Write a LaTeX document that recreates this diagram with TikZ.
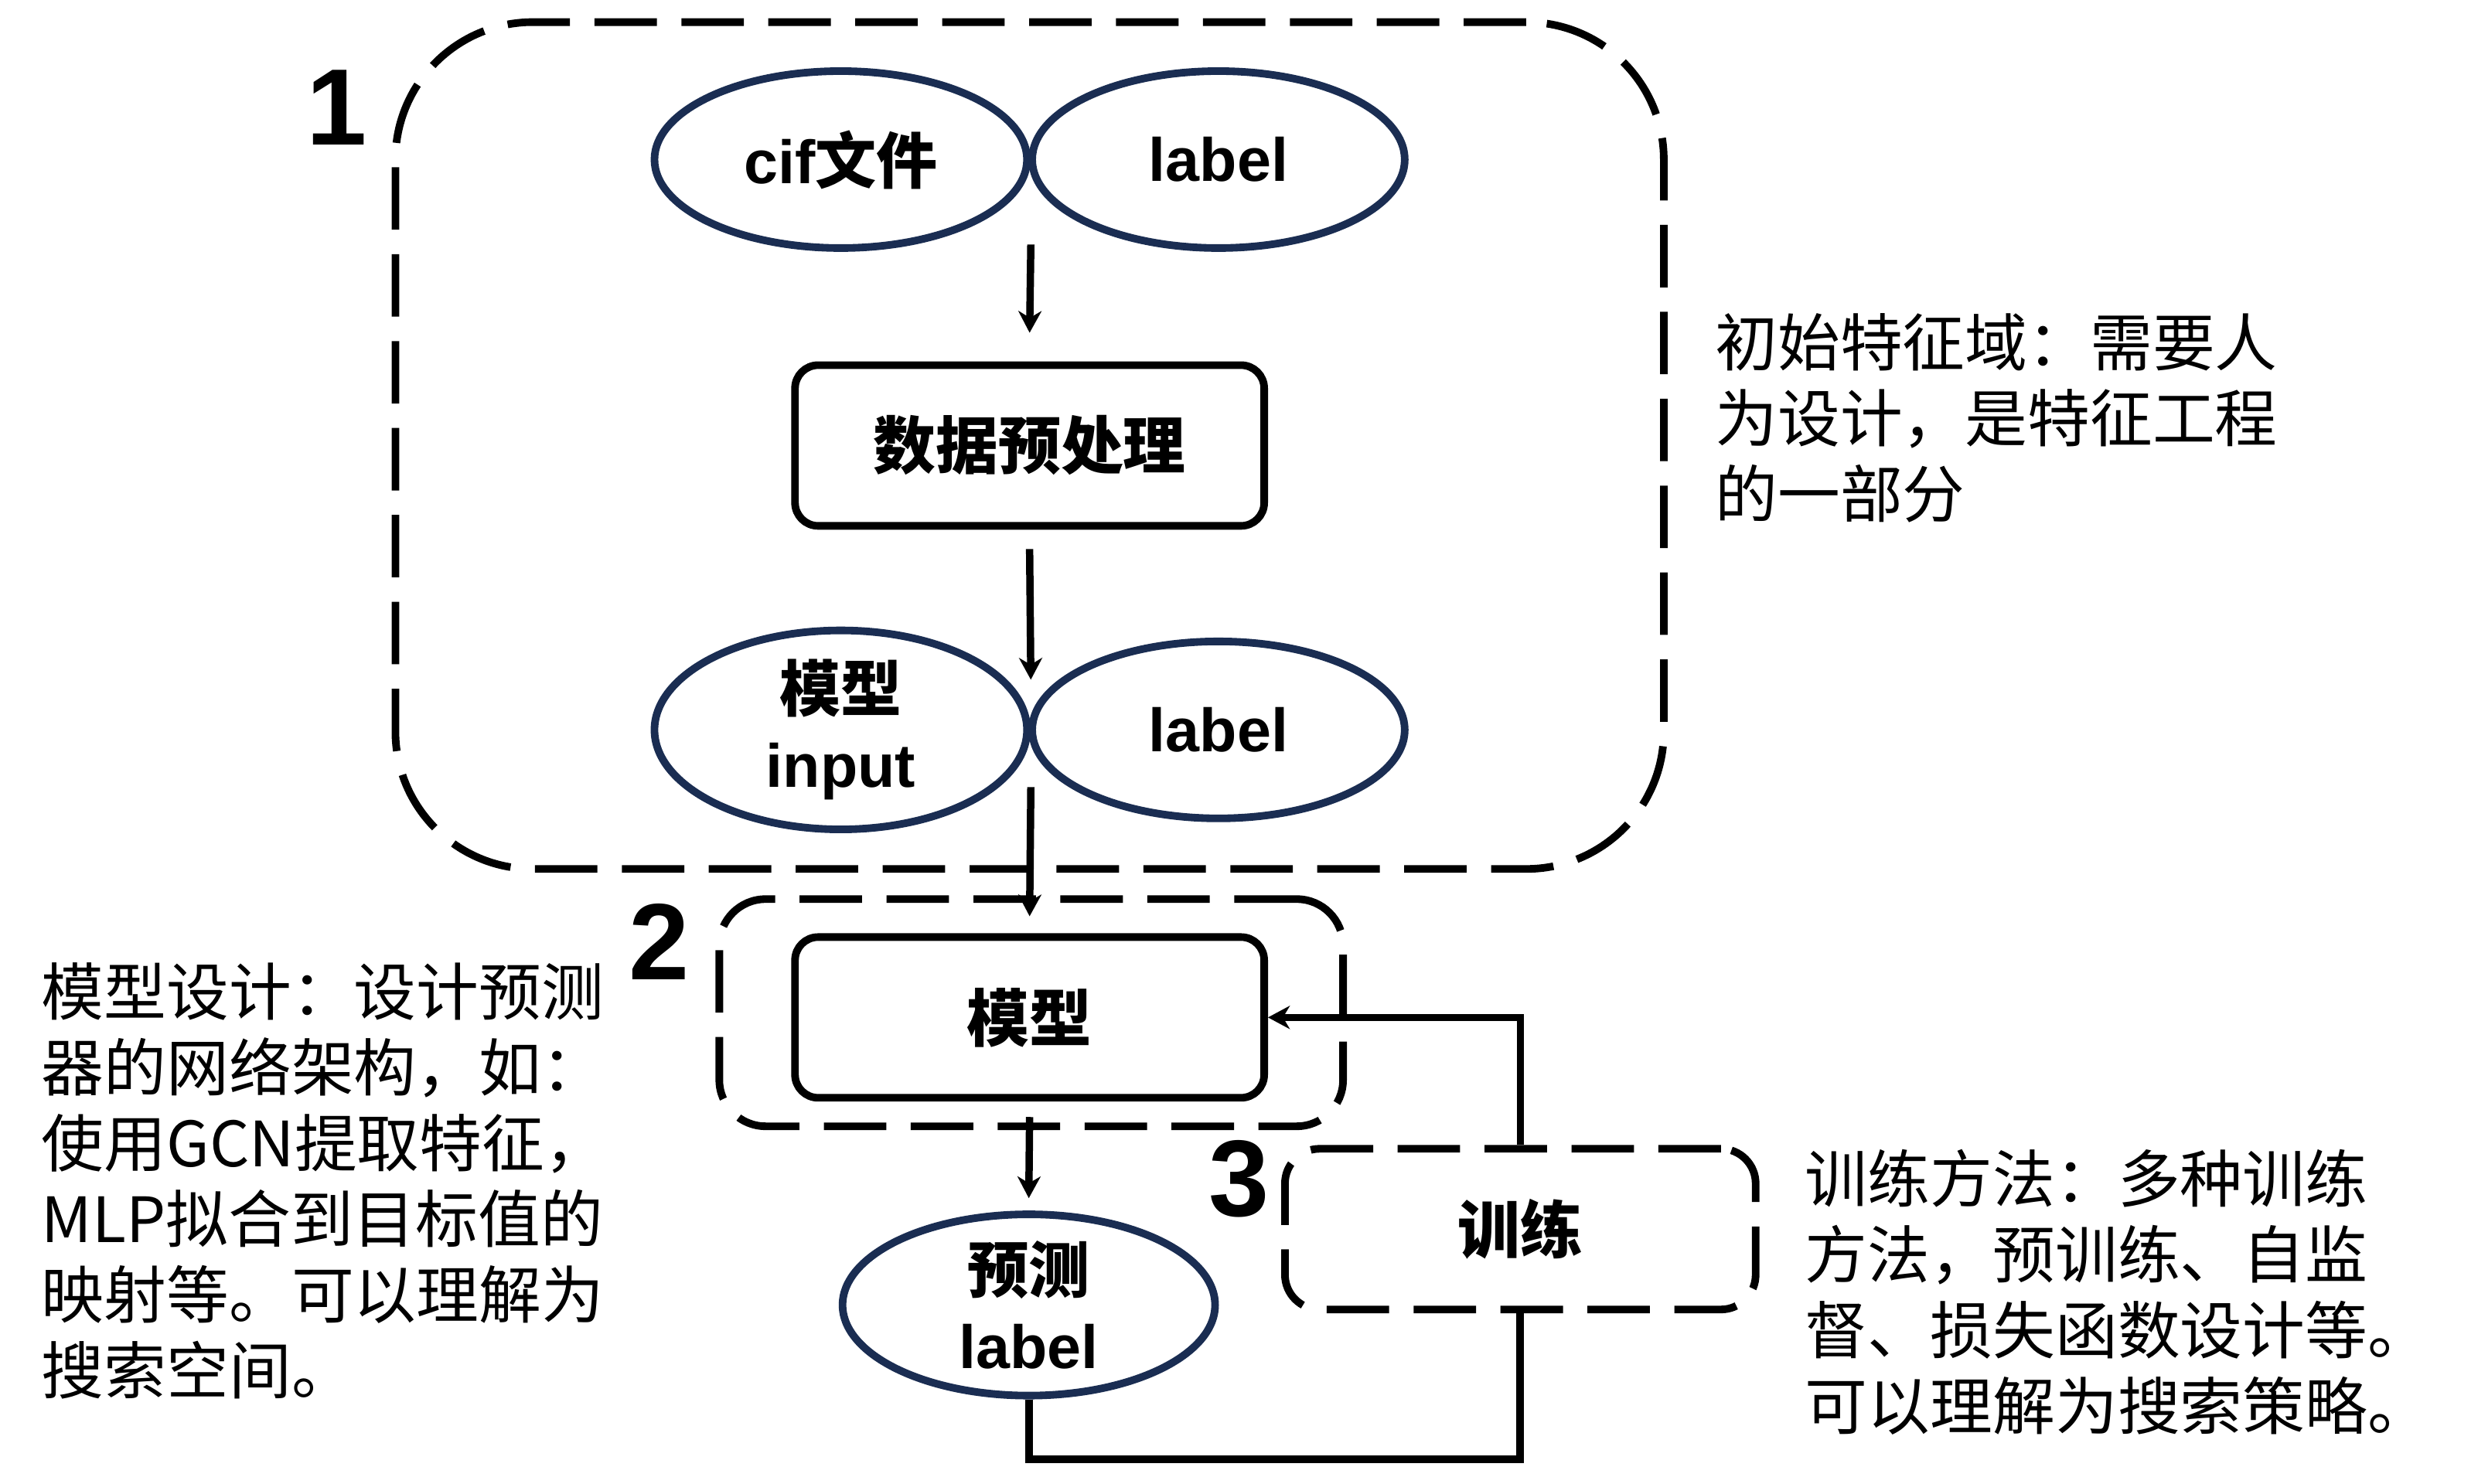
\documentclass[tikz,border=0pt]{standalone}
\usepackage{fontspec}
\setmainfont{Liberation Sans}
\newfontfamily\cjk{Noto Sans CJK SC}
\usetikzlibrary{shapes.geometric,arrows.meta,calc}
\definecolor{navy}{HTML}{1A2D52}
\begin{document}
\begin{tikzpicture}[x=0.02044cm,y=-0.02044cm,
  ell/.style={ellipse, draw=navy, line width=2.8pt, minimum width=4.82cm, minimum height=2.29cm, inner sep=0pt, align=center, font=\fontsize{22.5}{27.9}\selectfont\bfseries},
  procbox/.style={draw, line width=2.8pt, rounded corners=0.3cm, minimum width=6.07cm, minimum height=2.08cm, font=\cjk\bfseries\fontsize{23}{27.9}\selectfont},
  dbox/.style={draw, line width=2.8pt, dash pattern=on 23pt off 9pt},
  arr/.style={line width=2.7pt, -{Stealth[length=8pt,width=8.5pt,inset=2.5pt]}},
  conn/.style={line width=2.8pt},
  num/.style={font=\fontsize{40}{40}\selectfont\bfseries},
  note/.style={anchor=north west, inner sep=0pt, align=left, font=\cjk\fontsize{23}{27.9}\selectfont}
]
\useasboundingbox (0,0) rectangle (1568,939);
% group 1
\node[dbox, rounded corners=1.78cm, minimum width=16.41cm, minimum height=10.96cm] (g1) at (651.5,282) {};
\node[num] (n1) at (213,68) {1};
\node[ell] (cif) at (532,101) {cif{\cjk\bfseries 文件}};
\node[ell] (lab1) at (771,101) {label};
\node[procbox] (pre) at (651.5,282) {数据预处理};
\node[ell] (inp) at (532,462) {{\cjk\bfseries 模型}\\input};
\node[ell] (lab2) at (771,462) {label};
% group 2
\node[dbox, rounded corners=0.6cm, minimum width=8.07cm, minimum height=2.94cm] (g2) at (652.5,641) {};
\node[num] (n2) at (417,596) {2};
\node[procbox] (model) at (651.5,644) {模型};
\node[ell] (pred) at (651,826) {{\cjk\bfseries 预测}\\label};
% group 3
\node[dbox, rounded corners=0.45cm, minimum width=6.09cm, minimum height=2.08cm, font=\cjk\bfseries\fontsize{23}{27.9}\selectfont] (train) at (962,778) {训练};
\node[num] (n3) at (784,746) {3};
% connectors
\draw[arr] ([yshift=-1.1cm]cif.east) -- ([yshift=0.37cm]pre.north);
\draw[arr] ([yshift=-0.25cm]pre.south) -- ([yshift=0.65cm]inp.east);
\draw[arr] ([yshift=-0.74cm]inp.east) -- ([yshift=0.22cm]model.north);
\draw[arr] ([yshift=-0.2cm]model.south) -- ([yshift=0.16cm]pred.north);
\draw[arr] (train.north) |- (model.east);
\draw[conn] (pred.south) -- ++(0,38) -| (train.south);
% notes
\node[note] (t1) at (1085,198) {初始特征域：需要人\\为设计，是特征工程\\的一部分};
\node[note] (t2) at (26,609) {模型设计：设计预测\\器的网络架构，如：\\使用GCN提取特征，\\MLP拟合到目标值的\\映射等。可以理解为\\搜索空间。};
\node[note] (t3) at (1142,727) {训练方法：多种训练\\方法，预训练、自监\\督、损失函数设计等。\\可以理解为搜索策略。};
\end{tikzpicture}
\end{document}
